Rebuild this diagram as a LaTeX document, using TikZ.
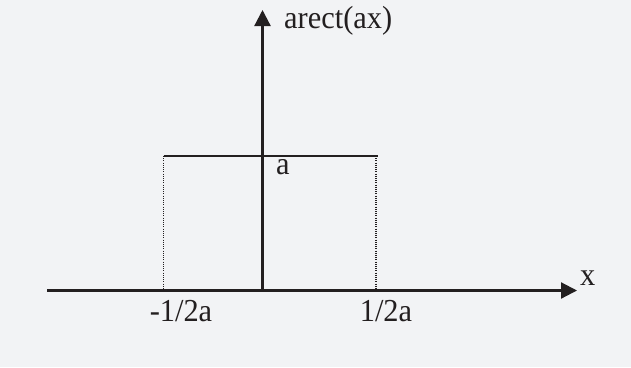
\documentclass[tikz,border=0pt]{standalone}
\usepackage{fontspec}
\setmainfont{Liberation Serif}[FakeStretch=0.95]
\usetikzlibrary{arrows.meta}
\definecolor{bg}{RGB}{242,243,245}
\definecolor{ink}{RGB}{35,31,32}
\begin{document}
\begin{tikzpicture}[x=1pt,y=-1pt,
  axis/.style={draw=ink,line width=2.2pt,-{Triangle[length=16pt,width=16pt]}},
  solid line/.style={draw=ink,line width=2.2pt},
  guide/.style={draw=ink,line width=1.3pt,dash pattern=on 1pt off 1.2pt},
  lbl/.style={inner sep=0pt,text=ink,font=\fontsize{32}{32}\selectfont}]
\fill[bg] (0,0) rectangle (631,367);
\useasboundingbox (0,0) rectangle (631,367);
% coordinates
\coordinate (xs) at (47,290.5);
\coordinate (xe) at (577,290.5);
\coordinate (o) at (262.5,290.5);
\coordinate (yt) at (262.5,10);
\coordinate (tl) at (163.5,156);
\coordinate (tr) at (378,156);
\coordinate (bl) at (163.5,290.5);
\coordinate (br) at (376,290.5);
\coordinate (trd) at (376,156);
% axes
\draw[axis] (xs) -- (xe);
\draw[axis] (o) -- (yt);
% rect top
\draw[solid line] (tl) -- (tr);
% dotted guides
\draw[guide] (tl) -- (bl);
\draw[guide] (trd) -- (br);
% labels
\node[lbl,anchor=base west] (ylab) at (284,28) {arect(ax)};
\node[lbl,anchor=base west] (xlab) at (580,285) {x};
\node[lbl,anchor=base west] (alab) at (276,174) {a};
\node[lbl,anchor=base] (lneg) at (181,321.5) {-1/2a};
\node[lbl,anchor=base] (lpos) at (386,321.5) {1/2a};
\end{tikzpicture}
\end{document}
